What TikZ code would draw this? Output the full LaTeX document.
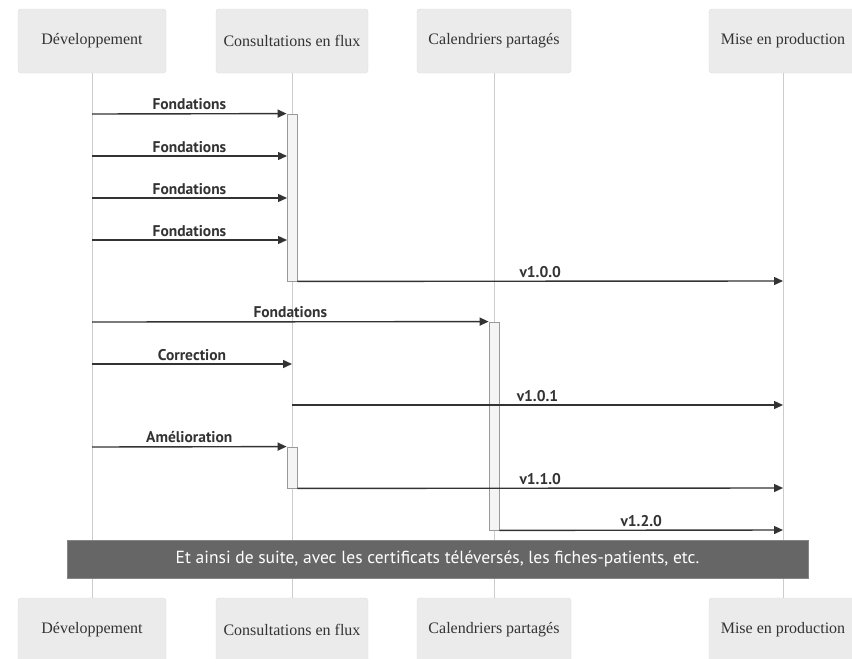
\documentclass[tikz,border=0pt]{standalone}
\usepackage{fontspec}
\setmainfont{Liberation Serif}
\setsansfont{PT Sans}
\usetikzlibrary{arrows.meta}

\definecolor{actorfill}{HTML}{EBEBEB}
\definecolor{actorline}{HTML}{DDDDDD}
\definecolor{lifegray}{HTML}{CCCCCC}
\definecolor{actfill}{HTML}{F4F4F4}
\definecolor{actgray}{HTML}{999999}
\definecolor{msgcolor}{HTML}{333333}
\definecolor{bandgray}{HTML}{666666}

\begin{document}
\begin{tikzpicture}[
		x=1pt, y=-1pt,
		actor/.style={rectangle, draw=actorline, fill=actorfill, rounded corners=3pt, minimum height=64pt, inner sep=0pt, font=\fontsize{16}{19}\selectfont, text=black!80},
		lifeline/.style={draw=lifegray, line width=0.9pt},
		activation/.style={rectangle, draw=actgray, fill=actfill, minimum width=10pt, inner sep=0pt, line width=0.8pt},
		msg/.style={draw=msgcolor, line width=1.4pt, -{Triangle[length=9pt,width=8pt]}},
		msglabel/.style={above, font=\sffamily\bfseries\fontsize{15.5}{18}\selectfont, text=msgcolor, inner sep=3pt}
	]
  \clip (0,0) rectangle (852,659);
  \fill[white] (0,0) rectangle (852,659);

  \node (dev) [actor, minimum width=148pt] at (92,41) {Développement};
  \node (con) [actor, minimum width=152pt] at (292,41) {Consultations en flux};
  \node (cal) [actor, minimum width=154pt] at (494,41) {Calendriers partagés};
  \node (mep) [actor, minimum width=148pt] at (783,41) {Mise en production};
  \node (devb) [actor, minimum width=148pt] at (92,630) {Développement};
  \node (conb) [actor, minimum width=152pt] at (292,630) {Consultations en flux};
  \node (calb) [actor, minimum width=154pt] at (494,630) {Calendriers partagés};
  \node (mepb) [actor, minimum width=148pt] at (783,630) {Mise en production};

  \draw[lifeline] (dev) -- (devb);
  \draw[lifeline] (con) -- (conb);
  \draw[lifeline] (cal) -- (calb);
  \draw[lifeline] (mep) -- (mepb);

  \node (act1) [activation, minimum height=167pt] at (292,197.5) {};
  \node (act2) [activation, minimum height=208pt] at (494,426) {};
  \node (act3) [activation, minimum height=41pt] at (292,467.5) {};

  \coordinate (d1) at (92,114);
  \coordinate (d2) at (92,156);
  \coordinate (c2) at (287,156);
  \coordinate (d3) at (92,198);
  \coordinate (c3) at (287,198);
  \coordinate (d4) at (92,240);
  \coordinate (c4) at (287,240);
  \coordinate (p5) at (783,281);
  \coordinate (d6) at (92,322);
  \coordinate (d7) at (92,364);
  \coordinate (c7) at (292,364);
  \coordinate (c8) at (292,405);
  \coordinate (p8) at (783,405);
  \coordinate (d9) at (92,447);
  \coordinate (p10) at (783,488);
  \coordinate (p11) at (783,530);

  \draw[msg] (d1) -- node[msglabel] {Fondations} (act1.north west);
  \draw[msg] (d2) -- node[msglabel] {Fondations} (c2);
  \draw[msg] (d3) -- node[msglabel] {Fondations} (c3);
  \draw[msg] (d4) -- node[msglabel] {Fondations} (c4);
  \draw[msg] (act1.south east) -- node[msglabel] {v1.0.0} (p5);
  \draw[msg] (d6) -- node[msglabel] {Fondations} (act2.north west);
  \draw[msg] (d7) -- node[msglabel] {Correction} (c7);
  \draw[msg] (c8) -- node[msglabel] {v1.0.1} (p8);
  \draw[msg] (d9) -- node[msglabel] {Amélioration} (act3.north west);
  \draw[msg] (act3.south east) -- node[msglabel] {v1.1.0} (p10);
  \draw[msg] (act2.south east) -- node[msglabel] {v1.2.0} (p11);

  \node (note) [rectangle, fill=bandgray, draw=bandgray!80, minimum width=741pt, minimum height=38pt, inner sep=0pt, text=white, font=\sffamily\fontsize{17.5}{20}\selectfont] at (437.5,559) {Et ainsi de suite, avec les certificats téléversés, les fiches-patients, etc.};
\end{tikzpicture}
\end{document}
